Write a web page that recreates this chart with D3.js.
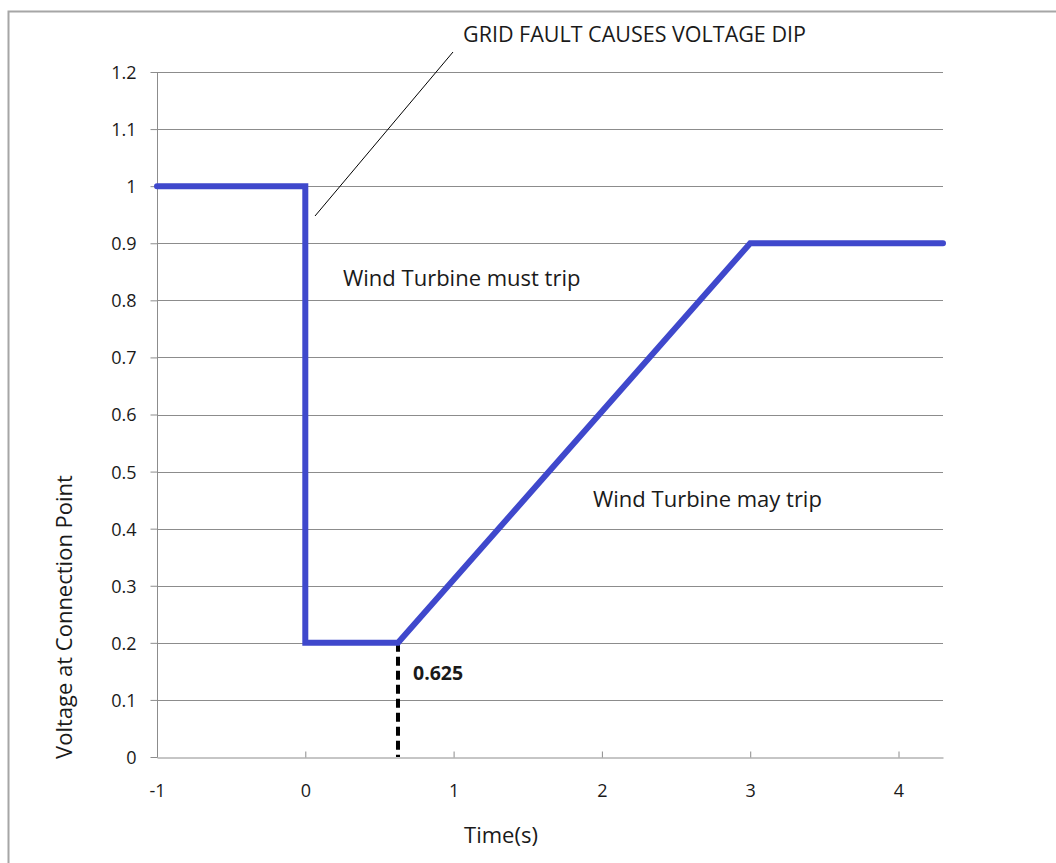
<!DOCTYPE html>
<html><head><meta charset="utf-8">
<script src="https://cdn.jsdelivr.net/npm/d3@7"></script>
<style>body{margin:0;background:#fff;} text{font-family:"Open Sans",sans-serif;fill:#1a1a1a;}</style>
</head><body>
<svg id="c" width="1056" height="863"></svg>
<script>
const seriesTime = [-1, 0, 0, 0.625, 3, 4.3];
const seriesVoltage = [1, 1, 0.2, 0.2, 0.9, 0.9];
const markerTime = [0.625, 0.625];
const markerVoltage = [0.2, 0];
const xTicks = [-1, 0, 1, 2, 3, 4];
const yTicks = [0, 0.1, 0.2, 0.3, 0.4, 0.5, 0.6, 0.7, 0.8, 0.9, 1, 1.1, 1.2];
const labels = {title:"GRID FAULT CAUSES VOLTAGE DIP", must:"Wind Turbine must trip", may:"Wind Turbine may trip", marker:"0.625", xTitle:"Time(s)", yTitle:"Voltage at Connection Point"};

const svg = d3.select("#c");
const x = d3.scaleLinear().domain([-1, 4.3]).range([157, 943]);
const y = d3.scaleLinear().domain([0, 1.2]).range([757, 72]);

// frame
svg.append("rect").attr("x",8.5).attr("y",11.5).attr("width",1100).attr("height",900)
  .attr("fill","none").attr("stroke","#a6a6a6").attr("stroke-width",2);

// gridlines
svg.append("g").selectAll("line").data(yTicks.filter(d=>d>0)).join("line")
  .attr("x1",x(-1)).attr("x2",x(4.3)).attr("y1",d=>Math.round(y(d))+0.5).attr("y2",d=>Math.round(y(d))+0.5)
  .attr("stroke","#8c8c8c").attr("stroke-width",1);

// y axis
const yAxis = svg.append("g").attr("transform",`translate(${x(-1)+0.5},0)`)
  .call(d3.axisLeft(y).tickValues(yTicks).tickSize(7).tickPadding(14).tickFormat(d=>String(+d.toFixed(1))));
yAxis.selectAll("path,line").attr("stroke","#8c8c8c");
yAxis.select(".domain").attr("d",`M0,${y(1.2)}V${y(0)}`);
yAxis.selectAll("text").style("font-size","18px").attr("fill","#1a1a1a").attr("dy","0.36em");

// x axis
const xAxis = svg.append("g").attr("transform",`translate(0,${Math.round(y(0))+0.5})`)
  .call(d3.axisBottom(x).tickValues(xTicks).tickSizeInner(-6).tickSizeOuter(0).tickPadding(27).tickFormat(d=>String(d)));
xAxis.selectAll("path,line").attr("stroke","#8c8c8c");
xAxis.selectAll("text").style("font-size","18px").attr("fill","#1a1a1a");

// dashed marker
svg.append("path").datum(markerTime.map((t,i)=>[t,markerVoltage[i]]))
  .attr("d",d3.line().x(d=>x(d[0])).y(d=>y(d[1])))
  .attr("stroke","#000").attr("stroke-width",4).attr("stroke-dasharray","9,5").attr("fill","none");

// main series
svg.append("path").datum(seriesTime.map((t,i)=>[t,seriesVoltage[i]]))
  .attr("d",d3.line().x(d=>x(d[0])).y(d=>y(d[1])))
  .attr("stroke","#3f48cc").attr("stroke-width",6).attr("fill","none")
  .attr("stroke-linejoin","miter").attr("stroke-linecap","round");

// leader line
svg.append("line").attr("x1",315).attr("y1",216).attr("x2",453).attr("y2",52)
  .attr("stroke","#000").attr("stroke-width",1);

// texts
svg.append("text").attr("x",463).attr("y",42).style("font-size","21.5px").text(labels.title);
svg.append("text").attr("x",343).attr("y",286).style("font-size","22px").text(labels.must);
svg.append("text").attr("x",593).attr("y",507).style("font-size","22px").text(labels.may);
svg.append("text").attr("x",413).attr("y",680).style("font-size","19.5px").style("font-weight","bold").text(labels.marker);
svg.append("text").attr("x",501).attr("y",843).attr("text-anchor","middle").style("font-size","22px").text(labels.xTitle);
svg.append("text").attr("transform","translate(72,617) rotate(-90)").attr("text-anchor","middle").style("font-size","22px").text(labels.yTitle);
</script>
</body></html>
